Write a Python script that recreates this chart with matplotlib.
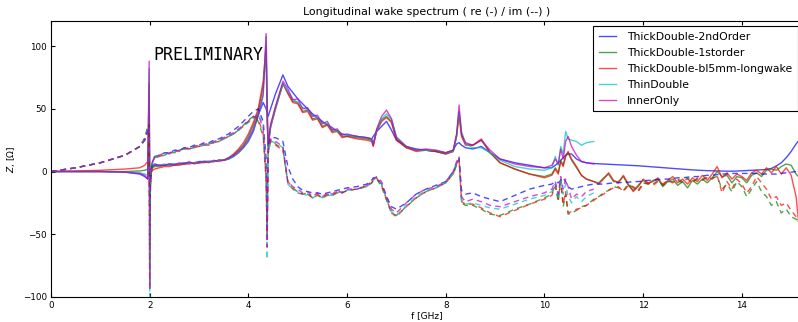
import matplotlib
matplotlib.use("Agg")
import matplotlib.pyplot as plt

# frequency grid [GHz], common part (all five runs)
f_lo = [0.0, 0.5, 1.0, 1.5, 1.8, 1.9, 1.96, 1.99, 2.0, 2.01, 2.03, 2.06, 2.1,
        2.2, 2.3, 2.4, 2.5, 2.6, 2.7, 2.8, 2.9, 3.0, 3.1, 3.2, 3.3, 3.4, 3.5, 3.6, 3.7, 3.8, 3.9, 4.0, 4.1, 4.2, 4.3,
        4.36, 4.38, 4.4, 4.45, 4.55, 4.7, 4.8, 4.9, 5.0, 5.1, 5.2, 5.3, 5.4, 5.5, 5.6, 5.7, 5.8, 5.9, 6.0,
        6.2, 6.4, 6.5, 6.53, 6.6, 6.7, 6.8, 6.9, 7.0, 7.2, 7.4, 7.6, 7.8, 8.0,
        8.15, 8.22, 8.27, 8.32, 8.4, 8.55, 8.72, 8.9, 9.1, 9.4, 9.7, 10.0, 10.15, 10.22, 10.28, 10.33, 10.38,
        10.43, 10.48, 10.55, 10.65, 10.75, 10.85, 11.0]

# extra grid for the long-wake runs
f_hi = [11.1, 11.2, 11.3, 11.4, 11.5, 11.6, 11.7, 11.8, 11.9, 12.0, 12.1, 12.2, 12.3, 12.4,
        12.5, 12.6, 12.7, 12.8, 12.9, 13.0, 13.1, 13.2, 13.3, 13.4, 13.5, 13.6, 13.7, 13.8,
        13.9, 14.0, 14.1, 14.2, 14.3, 14.4, 14.5, 14.6, 14.7, 14.8, 14.9, 15.0, 15.1, 15.2]

labels = ['ThickDouble-2ndOrder', 'ThickDouble-1storder', 'ThickDouble-bl5mm-longwake', 'ThinDouble', 'InnerOnly']
colors = ['b', 'g', 'r', 'c', 'm']

# ---- real parts ----
re_2nd = [0, 0, 0, -0.5, -2, -4, -6, 40, -20, -8, 0, 4, 5,
          5, 5, 6, 6, 6, 7, 7, 7, 8, 8, 8, 8, 9, 9, 10, 12, 15, 19, 24, 32, 45, 55,
          50, 47, 44, 50, 62, 77, 68, 63, 58, 54, 50, 46, 43, 40, 37, 35, 32, 30, 29,
          28, 27, 26, 28, 32, 36, 40, 33, 25, 20, 18, 17, 16, 15,
          17, 22, 23, 21, 19, 18, 20, 15, 10, 7, 5, 3, 3, 5, 7, 9, 11, 13, 14, 14, 10, 8, 7, 6.4,
          6.2, 6.0, 5.8, 5.6, 5.4, 5.2, 5.0, 4.8, 4.6, 4.3, 4.0, 3.7, 3.4, 3.1,
          2.8, 2.5, 2.2, 1.9, 1.6, 1.3, 1.1, 0.9, 0.7, 0.6, 0.5, 0.4, 0.3, 0.3,
          0.4, 0.6, 0.8, 1.0, 1.2, 1.4, 1.7, 2.5, 4.5, 7, 11, 16, 22, 27]
re_1st = [0, 0, 0, 0, 0.5, 1, 2, 70, -22, -8, 0, 3, 4,
          4, 5, 5, 5, 6, 6, 7, 7, 7, 8, 8, 8, 9, 9, 10, 13, 17, 21, 28, 37, 48, 68,
          95, 45, 20, 36, 51, 70, 63, 56, 55, 48, 49, 42, 43, 36, 38, 32, 33, 28, 28,
          27, 26, 25, 21, 33, 41, 44, 40, 26, 19, 17, 17, 16, 14,
          16, 29, 47, 29, 22, 21, 25, 15, 7, 2, -2, -4, -2, 3, -1, 9, 5, 13, 15, 9, 3, -3, -6, -8,
          -9, -5, -2, -8, -8, -4, -11, -15, -11, -7, -10, -7, -6, -12,
          -8, -6, -11, -8, -13, -7, -10, -6, -9, -5, 0, -4, -3, -9,
          -4, -5, -9, -3, -1, -4, 1, 2, 1, 4, 6, 5, -2, -6]
re_bl5 = [0, 0.5, 1, 2, 3, 5, 8, 45, -15, -5, -1, 1, 2,
          3, 4, 4, 5, 5, 6, 6, 7, 7, 7, 8, 8, 9, 9, 11, 14, 18, 23, 30, 39, 50, 72,
          100, 40, 22, 35, 50, 70, 62, 55, 54, 47, 48, 41, 42, 35, 37, 31, 32, 27, 28,
          26, 25, 24, 20, 32, 40, 43, 39, 25, 19, 16, 17, 16, 14,
          16, 28, 45, 28, 21, 21, 26, 15, 7, 2, -2, -5, -3, 2, -2, 8, 4, 12, 16, 10, 4, -3, -6, -8,
          -10, -6, -1, -7, -9, -3, -10, -16, -12, -6, -9, -8, -5, -11,
          -7, -4, -9, -6, -10, -5, -8, -3, -7, -2, 4, -5, -1, -6,
          -2, -4, -7, -1, 1, -2, 3, -1, 4, -2, 3, -3, -20, -60]
re_thin = [0, 0, 0, -0.5, -1, -2, -3, 82, -25, -8, 2, 5, 6,
           5, 6, 5, 6, 6, 7, 7, 7, 7, 8, 8, 8, 9, 9, 10, 12, 15, 19, 25, 33, 44, 60,
           108, 50, 18, 36, 50, 70, 64, 58, 55, 51, 49, 45, 43, 39, 38, 34, 32, 30, 29,
           28, 27, 26, 22, 33, 42, 46, 42, 28, 20, 17, 17, 17, 15,
           16, 28, 48, 32, 22, 19, 19, 15, 9, 4, 2, 1, 3, 12, 5, 20, 14, 32, 26, 25, 24, 21, 23, 24]
re_inner = [0, 0, 0, -0.5, -1.5, -3, -6, 88, -28, -10, 2, 5, 6,
            5, 5, 6, 5, 7, 6, 8, 6, 7, 8, 7, 9, 8, 9, 11, 13, 16, 20, 26, 34, 45, 62,
            110, 60, 20, 38, 52, 72, 66, 57, 58, 50, 51, 44, 45, 38, 40, 33, 34, 29, 30,
            28, 27, 26, 21, 34, 44, 49, 42, 27, 20, 17, 18, 17, 15,
            17, 30, 53, 30, 23, 21, 25, 17, 10, 6, 4, 3, 5, 10, 6, 18, 10, 24, 28, 20, 13, 8, 7, 6]

# ---- imaginary parts ----
im_2nd = [0, 3, 7, 13, 20, 25, 32, 38, -60, -15, 2, 8, 12,
          13, 15, 15, 17, 17, 19, 19, 21, 21, 23, 23, 25, 26, 28, 30, 33, 36, 40, 44, 48, 50, 40,
          10, -40, 20, 27, 27, 24, 4, -6, -12, -15, -16, -17, -17, -18, -17, -16, -15, -14, -13,
          -12, -10, -7, -5, -5, -10, -20, -28, -30, -25, -18, -14, -11, -8,
          0, 6, 10, -15, -18, -17, -20, -22, -24, -19, -14, -11, -10, -8, -9, -7, -5, -8, -12, -14, -13, -12, -11, -10,
          -10, -10, -9.5, -9, -9, -8.5, -8.5, -8, -8, -7.5, -7, -7, -6.5, -6,
          -6, -5.5, -5, -5, -4.5, -4, -4, -3.5, -3, -3, -2.5, -2, -2, -1.5,
          -1.5, -1.5, -1.5, -1.5, -1.5, -2, -2, -2, -2, -1.5, -1, -0.5, 0, 0]
im_1st = [0, 3, 7, 13, 20, 27, 36, 38, -92, -18, 3, 8, 11,
          12, 13, 15, 15, 17, 18, 18, 19, 20, 21, 22, 23, 24, 26, 28, 30, 33, 37, 41, 44, 40, 28,
          -8, -50, 14, 24, 22, 18, -9, -14, -17, -18, -18, -21, -19, -21, -19, -19, -17, -17, -15,
          -14, -12, -9, -7, -6, -12, -23, -33, -35, -28, -21, -16, -13, -9,
          -2, 5, 10, -25, -27, -27, -30, -34, -35, -30, -26, -21, -18, -10, -24, -6, -28, -18, -34, -33, -31, -28, -27, -22,
          -20, -17, -15, -12, -13, -15, -10, -13, -15, -9, -10, -10, -7, -11,
          -8, -8, -7, -9, -5, -8, -6, -6, -5, -5, -4, -14, -10, -16,
          -8, -12, -20, -14, -8, -16, -20, -27, -24, -33, -30, -36, -38, -40]
im_bl5 = [0, 3, 7, 13, 20, 26, 34, 38, -90, -18, 3, 8, 11,
          12, 14, 15, 16, 17, 18, 18, 19, 20, 21, 21, 23, 24, 26, 28, 30, 33, 36, 40, 44, 42, 30,
          -5, -54, 15, 25, 21, 17, -8, -13, -16, -18, -17, -21, -18, -21, -18, -19, -16, -17, -15,
          -14, -11, -9, -7, -5, -11, -22, -33, -36, -28, -21, -16, -13, -9,
          -2, 6, 10, -24, -26, -26, -29, -33, -36, -31, -26, -22, -19, -12, -22, -8, -26, -16, -33, -32, -30, -29, -27, -23,
          -20, -18, -15, -13, -12, -16, -11, -12, -16, -10, -9, -11, -8, -10,
          -7, -9, -6, -8, -6, -9, -5, -7, -4, -6, -3, -17, -8, -14,
          -6, -10, -17, -12, -4, -9, -14, -22, -20, -27, -25, -31, -36, -44]
im_thin = [0, 3, 7, 13, 20, 26, 34, 40, -100, -22, 2, 8, 12,
           13, 14, 15, 16, 17, 18, 19, 20, 21, 21, 22, 23, 25, 26, 28, 30, 33, 36, 39, 42, 46, 38,
           5, -70, 15, 24, 23, 19, -10, -14, -16, -18, -19, -21, -19, -21, -19, -19, -17, -16, -15,
           -14, -12, -9, -7, -5, -10, -22, -32, -35, -27, -20, -15, -13, -9,
           -1, 7, 11, -22, -26, -25, -27, -29, -30, -26, -22, -19, -16, -10, -22, -6, -18, -10, -20, -25, -20, -24, -20, -17]
im_inner = [0, 3, 7, 13, 20, 25, 33, 40, -95, -20, 2, 8, 12,
            13, 15, 14, 17, 16, 19, 18, 20, 21, 22, 22, 24, 25, 27, 29, 31, 34, 37, 40, 43, 45, 35,
            0, -60, 18, 26, 24, 20, -8, -12, -14, -17, -16, -20, -17, -20, -17, -18, -15, -17, -14,
            -14, -11, -8, -6, -4, -8, -20, -30, -33, -25, -18, -14, -12, -8,
            0, 8, 12, -20, -24, -22, -24, -27, -28, -24, -20, -17, -14, -8, -18, -4, -14, -6, -12, -22, -18, -20, -16, -14]


def main():
    fig = plt.figure(figsize=(7.98, 3.22), dpi=100)
    ax = fig.add_axes([51 / 798, 25 / 322, 752 / 798, 276 / 322])

    f_long = f_lo + f_hi
    runs = [(f_long, re_2nd, im_2nd), (f_long, re_1st, im_1st), (f_long, re_bl5, im_bl5),
            (f_lo, re_thin, im_thin), (f_lo, re_inner, im_inner)]

    for (f, re, im), col, lab in zip(runs, colors, labels):
        ax.plot(f, re, color=col, lw=1.0, alpha=0.7, label=lab)
    for (f, re, im), col in zip(runs, colors):
        ax.plot(f, im, color=col, lw=1.0, alpha=0.7, ls=(0, (4, 3)))

    ax.set_xlim(0, 15.24)
    ax.set_ylim(-100, 120)
    ax.set_xticks([0, 2, 4, 6, 8, 10, 12, 14])
    ax.set_yticks([-100, -50, 0, 50, 100])
    ax.tick_params(direction='in', top=True, right=True, length=3, labelsize=6.3, pad=3)
    ax.set_xlabel('f [GHz]', fontsize=6.5, labelpad=1)
    ax.set_ylabel(r'$Z$, [$\Omega$]', fontsize=6.5)
    ax.set_title('Longitudinal wake spectrum ( re (-) / im (--) )', fontsize=7.9, pad=4)

    ax.text(2.07, 93, 'PRELIMINARY', family='DejaVu Sans Mono', fontsize=12, va='center')

    leg = ax.legend(loc='upper right', fontsize=7.8, fancybox=False, framealpha=1,
                    edgecolor='black', labelspacing=0.55, handlelength=1.6, handletextpad=1.0,
                    borderpad=0.5, borderaxespad=0.5)
    leg.get_frame().set_linewidth(0.8)

    plt.savefig('out.png', dpi=100)


if __name__ == "__main__":
    main()
